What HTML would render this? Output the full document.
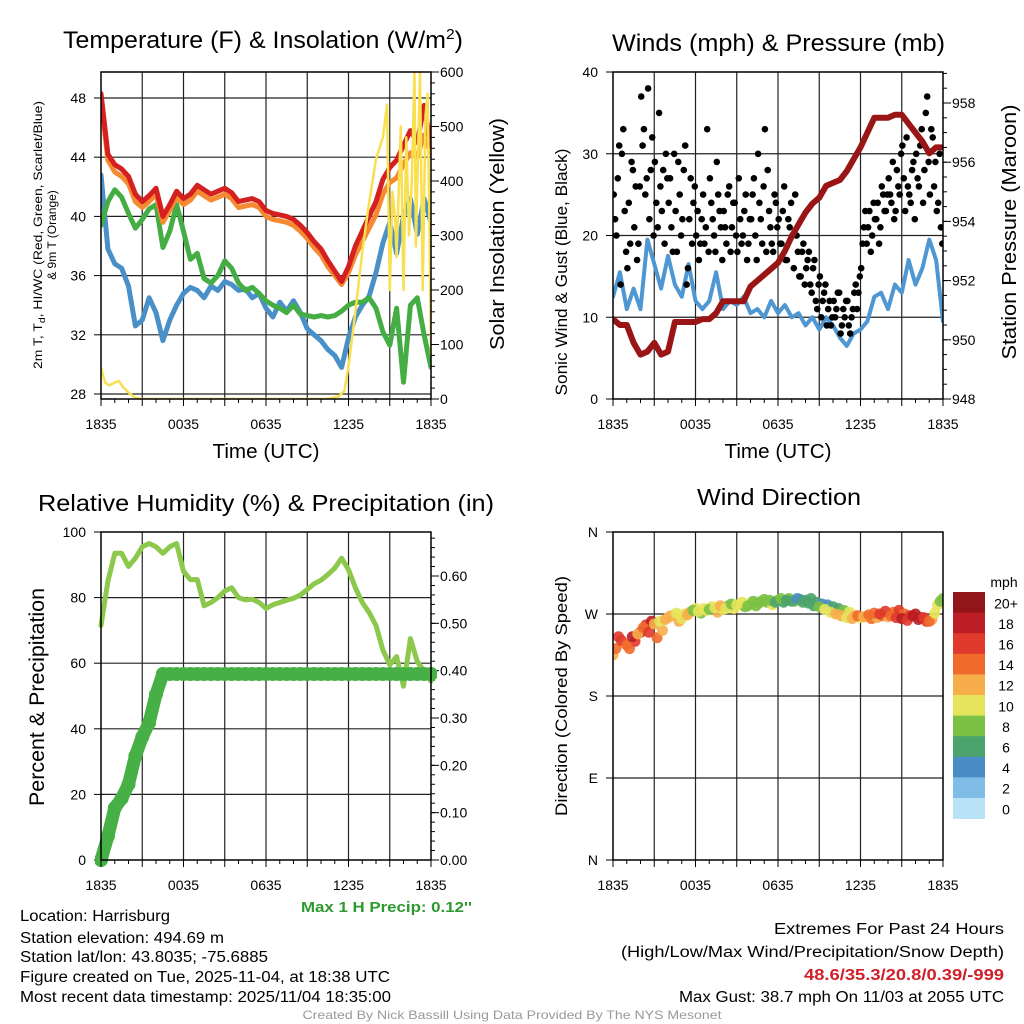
<!DOCTYPE html>
<html><head><meta charset="utf-8"><title>Mesonet Station Meteogram</title>
<style>
html,body{margin:0;padding:0;background:#fff;}
svg{display:block;font-family:"Liberation Sans",Arial,sans-serif;}
</style></head>
<body>
<svg id="fig" width="1024" height="1024" viewBox="0 0 1024 1024" xmlns="http://www.w3.org/2000/svg">
<rect x="0" y="0" width="1024" height="1024" fill="#fff"/>
<defs>
<clipPath id="c1"><rect x="101" y="72" width="330" height="327"/></clipPath>
<clipPath id="c2"><rect x="613" y="72" width="330" height="327"/></clipPath>
<clipPath id="c3"><rect x="95" y="532" width="342" height="336"/></clipPath>
<clipPath id="c4"><rect x="613" y="532" width="330" height="328"/></clipPath>
</defs>
<!-- titles -->
<text x="63" y="48" font-size="24" textLength="400" lengthAdjust="spacingAndGlyphs">Temperature (F) &amp; Insolation (W/m<tspan dy="-9" font-size="15">2</tspan><tspan dy="9">)</tspan></text>
<text x="612" y="51" font-size="24" textLength="333" lengthAdjust="spacingAndGlyphs">Winds (mph) &amp; Pressure (mb)</text>
<text x="38" y="511" font-size="23" textLength="456" lengthAdjust="spacingAndGlyphs">Relative Humidity (%) &amp; Precipitation (in)</text>
<text x="697" y="505" font-size="23" textLength="164" lengthAdjust="spacingAndGlyphs">Wind Direction</text>
<!-- axis titles -->
<text transform="translate(42,235) rotate(-90)" text-anchor="middle" font-size="12" textLength="268" lengthAdjust="spacingAndGlyphs">2m T, T<tspan dy="3" font-size="9">d</tspan><tspan dy="-3">, HI/WC (Red, Green, Scarlet/Blue)</tspan></text>
<text transform="translate(56,235) rotate(-90)" text-anchor="middle" font-size="12">&amp; 9m T (Orange)</text>
<text transform="translate(504,234) rotate(-90)" text-anchor="middle" font-size="20" textLength="232" lengthAdjust="spacingAndGlyphs">Solar Insolation (Yellow)</text>
<text x="266" y="458" text-anchor="middle" font-size="20" textLength="107" lengthAdjust="spacingAndGlyphs">Time (UTC)</text>
<text transform="translate(567,272) rotate(-90)" text-anchor="middle" font-size="17" textLength="247" lengthAdjust="spacingAndGlyphs">Sonic Wind &amp; Gust (Blue, Black)</text>
<text transform="translate(1016,232) rotate(-90)" text-anchor="middle" font-size="20" textLength="255" lengthAdjust="spacingAndGlyphs">Station Pressure (Maroon)</text>
<text x="778" y="458" text-anchor="middle" font-size="20" textLength="107" lengthAdjust="spacingAndGlyphs">Time (UTC)</text>
<text transform="translate(44,697) rotate(-90)" text-anchor="middle" font-size="21" textLength="218" lengthAdjust="spacingAndGlyphs">Percent &amp; Precipitation</text>
<text transform="translate(567,696) rotate(-90)" text-anchor="middle" font-size="17" textLength="240" lengthAdjust="spacingAndGlyphs">Direction (Colored By Speed)</text>
<text x="472" y="912" text-anchor="end" font-size="15" font-weight="bold" fill="#2e9a2e" textLength="171" lengthAdjust="spacingAndGlyphs">Max 1 H Precip: 0.12''</text>
<!-- footer info -->
<g font-size="15.5">
<text x="20" y="921" textLength="150" lengthAdjust="spacingAndGlyphs">Location: Harrisburg</text>
<text x="20" y="943" textLength="204" lengthAdjust="spacingAndGlyphs">Station elevation: 494.69 m</text>
<text x="20" y="962" textLength="248" lengthAdjust="spacingAndGlyphs">Station lat/lon: 43.8035; -75.6885</text>
<text x="20" y="982" textLength="370" lengthAdjust="spacingAndGlyphs">Figure created on Tue, 2025-11-04, at 18:38 UTC</text>
<text x="20" y="1002" textLength="371" lengthAdjust="spacingAndGlyphs">Most recent data timestamp: 2025/11/04 18:35:00</text>
</g>
<g font-size="15.5" text-anchor="end">
<text x="1004" y="934" textLength="230" lengthAdjust="spacingAndGlyphs">Extremes For Past 24 Hours</text>
<text x="1004" y="957" textLength="383" lengthAdjust="spacingAndGlyphs">(High/Low/Max Wind/Precipitation/Snow Depth)</text>
<text x="1004" y="980" fill="#d0202a" font-weight="bold" textLength="200" lengthAdjust="spacingAndGlyphs">48.6/35.3/20.8/0.39/-999</text>
<text x="1004" y="1002" textLength="325" lengthAdjust="spacingAndGlyphs">Max Gust: 38.7 mph On 11/03 at 2055 UTC</text>
</g>
<text x="512" y="1019" text-anchor="middle" font-size="12" fill="#999" textLength="419" lengthAdjust="spacingAndGlyphs">Created By Nick Bassill Using Data Provided By The NYS Mesonet</text>
<g id="marks"></g>
</svg>
<script>
// ---------- data ----------
const hours = [0,0.5,1,1.5,2,2.5,3,3.5,4,4.5,5,5.5,6,6.5,7,7.5,8,8.5,9,9.5,10,10.5,11,11.5,12,12.5,13,13.5,14,14.5,15,15.5,16,16.5,17,17.5,18,18.5,19,19.5,20,20.5,21,21.5,22,22.5,23,23.5,24];
const xTickHours = [0,6,12,18,24];
const xTickLabels = ['1835','0035','0635','1235','1835'];
const tempRed = [48.3,44.2,43.5,43.2,42.7,41.5,41.0,41.4,41.9,40.0,40.8,41.7,41.2,41.5,42.1,41.8,41.5,41.7,41.9,41.6,41.0,41.1,41.2,41.0,40.4,40.2,40.1,40.0,39.8,39.4,38.9,38.3,37.8,37.0,36.3,35.6,36.6,38.0,39.0,40.0,41.0,42.5,43.3,43.8,44.8,45.8,45.0,47.5,44.8];
const tempOrange = [47.9,43.8,43.0,42.7,42.2,41.0,40.6,41.0,41.5,39.6,40.4,41.3,40.8,41.1,41.7,41.4,41.1,41.3,41.5,41.2,40.6,40.7,40.8,40.6,40.0,39.8,39.7,39.6,39.4,39.0,38.5,37.9,37.4,36.6,36.0,35.4,36.2,37.4,38.3,39.2,40.1,41.5,42.3,42.6,43.5,44.3,44.0,45.5,44.3];
const dewGreen = [39.4,41.0,41.8,41.3,40.2,39.2,39.8,40.5,40.8,37.9,39.0,40.8,39.0,37.1,37.5,35.8,35.5,36.0,37.0,36.5,35.5,35.0,35.2,34.8,34.3,34.0,33.8,33.5,34.0,33.4,33.3,33.2,33.3,33.2,33.3,33.6,34.0,34.2,34.2,34.5,33.8,32.2,31.3,33.8,28.8,34.0,34.5,32.0,29.8];
const hiwcBlue = [42.8,37.8,36.8,36.5,35.3,32.6,33.0,34.5,33.5,31.6,33.0,34.0,34.8,35.2,35.0,34.5,35.3,35.0,35.6,35.4,35.0,35.1,34.5,34.8,33.8,33.2,34.2,33.6,34.3,33.5,32.4,32.0,31.6,31.0,30.6,29.8,31.8,33.2,34.0,34.6,36.2,38.2,39.6,37.5,40.0,41.2,38.8,41.2,39.6];
const solarHours = [0,0.3,0.6,1.0,1.3,1.6,2.0,2.5,3,6,9,12,15,16.5,17.3,17.7,18.0,18.5,19.0,19.5,20.0,20.5,20.8,21.0,21.2,21.4,21.5,21.8,22.0,22.2,22.4,22.6,22.8,22.9,23.2,23.4,23.6,23.75,23.9,24];
const solarValues = [58,30,25,30,33,22,12,2,0,0,0,0,0,0,5,15,60,160,270,360,440,480,540,200,380,330,260,500,200,480,300,400,600,280,600,200,520,560,300,80];
const windBlue = [12.5,15.5,11,13.5,11,19.5,16.5,13.5,17.5,14,12.5,16.5,12,11,12,15.5,11,12,11.5,12.5,10.5,11,10,12,10.5,11.5,10,10.5,9,10,8.5,10,9,7.5,6.5,8,8.5,9.5,12.5,13,11,14,13,17,14,16,19.5,17,9.5];
const gustValues = [25,20,31,30,23,16,19,28,26,19,37,33,27,22,32,29,21,26,28,30,24,21,30,18,25,22,31,16,27,24,20,17,22,19,33,27,22,18,25,21,23,19,26,21,24,18,22,20,25,19,22,27,17,24,19,33,28,21,18,24,22,19,26,17,21,20,25,18,15,19,16,18,13,17,11,15,12,14,11,9,12,11,13,9,10,12,8,11,14,13,16,21,19,23,20,22,24,21,25,23,27,24,22,28,25,31,23,26,24,29,30,26,33,28,37,25,32,29,24,21];
const gustValuesB = [22,27,14,33,18,24,29,21,17,26,31,25,38,28,20,24,35,23,19,27,27,18,23,29,20,28,14,22,19,26,23,19,25,21,18,24,20,29,23,17,21,25,18,24,20,27,19,23,17,22,25,20,30,22,26,18,23,19,25,21,19,23,17,22,24,16,20,15,18,14,17,14,16,12,14,10,13,9,12,10,10,13,8,11,12,9,10,13,11,15,19,23,21,18,24,22,19,26,23,25,25,29,23,26,30,27,32,25,28,22,27,31,24,35,29,33,26,23,30,19];
const gustStep = 0.2;
const pressure = [950.7,950.5,950.5,949.9,949.5,949.6,949.9,949.5,949.6,950.6,950.6,950.6,950.6,950.7,950.7,950.9,951.3,951.3,951.3,951.3,951.8,952.0,952.2,952.4,952.6,953.0,953.5,953.9,954.3,954.6,954.8,955.2,955.3,955.4,955.7,956.1,956.5,957.0,957.5,957.5,957.5,957.6,957.6,957.3,957.0,956.7,956.3,956.5,956.5];
const rh = [71.5,85,93.5,93.5,89.5,92,95.5,96.5,95.5,93.5,95.5,96.5,88,85.5,85.5,77.5,78.5,80,82,83,80,79.3,79.5,78.5,76.7,77.8,78.5,79.2,79.8,80.8,82.5,84.2,85.3,87,89,92,88.5,83,78.5,75.5,71.5,64,59.5,62,53,67.5,60.5,57.5,54.5];
const precip = [0,0.05,0.11,0.13,0.16,0.22,0.26,0.29,0.35,0.393,0.393,0.393,0.393,0.393,0.393,0.393,0.393,0.393,0.393,0.393,0.393,0.393,0.393,0.393,0.393,0.393,0.393,0.393,0.393,0.393,0.393,0.393,0.393,0.393,0.393,0.393,0.393,0.393,0.393,0.393,0.393,0.393,0.393,0.393,0.393,0.393,0.393,0.393,0.393];
const dirStep = 0.4;
const dirValues = [225,245,238,232,240,250,258,262,244,252,266,268,262,270,272,276,271,274,278,272,275,279,276,280,278,282,279,284,283,280,285,283,287,284,286,285,287,283,281,280,278,276,274,272,268,266,267,265,266,268,267,272,274,270,268,270,266,262,264,280,287];
const dirSpeeds = [12,16,13,14,17,18,16,19,15,13,12,11,13,10,12,10,9,11,10,12,10,9,11,10,9,10,9,8,9,10,8,7,8,9,7,7,6,6,5,5,6,7,8,10,12,11,12,14,13,15,12,14,16,15,17,18,19,17,12,10,8];
const dirValuesB = [232,241,236,245,248,255,250,259,262,264,268,271,265,269,274,273,276,275,277,279,276,281,280,283,279,284,282,286,285,283,287,285,284,287,283,282,279,278,275,272,270,268,266,265,268,267,269,271,270,273,268,266,265,263,268,264,266,262,271,284];
const dirSpeedsB = [14,17,15,18,13,14,16,12,11,13,12,10,11,12,9,10,11,9,10,12,10,9,10,11,8,9,8,9,8,7,8,7,6,5,6,6,7,9,10,11,12,13,11,12,14,13,15,14,16,17,15,16,18,17,19,18,16,14,11,9];
const speedBins = ['0','2','4','6','8','10','12','14','16','18','20+'];
const tempTicks = [28,32,36,40,44,48];
const solarTicks = [0,100,200,300,400,500,600];
const windTicks = [0,10,20,30,40];
const presTicks = [948,950,952,954,956,958];
const rhTicks = [0,20,40,60,80,100];
const precipTicks = [0,0.1,0.2,0.3,0.4,0.5,0.6];
const dirTicks = [0,90,180,270,360];
const dirLabels = ['N','E','S','W','N'];
const binColors = ['#b8e3f7','#7fbde6','#4a8dc6','#4ba46c','#7cc046','#e6e45a','#f7ae4a','#ef6b2b','#df3a2b','#bd1d24','#921619'];

// ---------- helpers ----------
const NS='http://www.w3.org/2000/svg';
const root=document.getElementById('marks');
function mk(tag,parent){const e=document.createElementNS(NS,tag);(parent||root).appendChild(e);return e;}
function lin(d0,d1,r0,r1){return v=>r0+(v-d0)*(r1-r0)/(d1-d0);}
function pathD(xs,ys,sx,sy){return xs.map((x,i)=>(i?'L':'M')+sx(x).toFixed(1)+','+sy(ys[i]).toFixed(1)).join('');}
function drawLine(g,xs,ys,sx,sy,color,w,name){
  const p=mk('path',g);
  p.setAttribute('d',pathD(xs,ys,sx,sy));
  p.setAttribute('fill','none');p.setAttribute('stroke',color);p.setAttribute('stroke-width',w);
  p.setAttribute('stroke-linejoin','round');p.setAttribute('stroke-linecap','round');
  
  
  return p;
}
function seg(g,x1,y1,x2,y2,color,w){const l=mk('line',g);l.setAttribute('x1',x1);l.setAttribute('y1',y1);l.setAttribute('x2',x2);l.setAttribute('y2',y2);l.setAttribute('stroke',color);l.setAttribute('stroke-width',w);return l;}
function txt(g,x,y,s,anchor,size){const t=mk('text',g);t.setAttribute('x',x);t.setAttribute('y',y);t.setAttribute('text-anchor',anchor);t.setAttribute('font-size',size);t.setAttribute('dominant-baseline','central');t.textContent=s;return t;}

function panel(P,name){
  const g=mk('g');
  
  
  const sx=lin(0,24,P.x0,P.x1);
  for(let h=3;h<24;h+=3){seg(g,sx(h),P.y0,sx(h),P.y1,'#222',1.2);}
  return {g,sx};
}
function frame(g,P){const r=mk('rect',g);r.setAttribute('x',P.x0);r.setAttribute('y',P.y0);r.setAttribute('width',P.x1-P.x0);r.setAttribute('height',P.y1-P.y0);r.setAttribute('fill','none');r.setAttribute('stroke','#000');r.setAttribute('stroke-width',1.5);}
function xAxis(g,P,sx){
  const ax=mk('g',g);
  
  
  for(let h=0;h<=24;h+=1){seg(ax,sx(h),P.y1,sx(h),P.y1+(h%3===0?7:4),'#000',1);}
  xTickHours.forEach((h,i)=>{const t=txt(ax,sx(h),P.y1+25,xTickLabels[i],'middle',14);});
}
function leftAxis(g,P,sy,ticks,labels,grid){
  const ax=mk('g',g);
  
  
  ticks.forEach((v,i)=>{const y=sy(v);
    if(grid && y>P.y0+1 && y<P.y1-1) seg(ax,P.x0,y,P.x1,y,'#222',1.2);
    seg(ax,P.x0-7,y,P.x0,y,'#000',1);
    const t=txt(ax,P.x0-15,y,labels[i],'end',14);
    
    });
}
function rightAxis(g,P,sy,ticks,labels,minorStep,lo,hi){
  const ax=mk('g',g);
  
  
  for(let v=lo;v<=hi+1e-9;v+=minorStep){const y=sy(v);if(y>=P.y0-0.5&&y<=P.y1+0.5)seg(ax,P.x1,y,P.x1+4,y,'#000',1);}
  ticks.forEach((v,i)=>{const y=sy(v);seg(ax,P.x1,y,P.x1+8,y,'#000',1);
    const t=txt(ax,P.x1+9,y,labels[i],'start',14);
    
    });
}

// ---------- Panel 1: temperature ----------
{const P={x0:101,x1:431,y0:72,y1:399};
 const {g,sx}=panel(P,'temperature-panel');
 const sy=lin(28,48,394,98), sr=lin(0,600,399,72);
 leftAxis(g,P,sy,tempTicks,tempTicks.map(String),true);
 rightAxis(g,P,sr,solarTicks,solarTicks.map(String),20,0,600);
 const c=mk('g',g);c.setAttribute('clip-path','url(#c1)');
 drawLine(c,hours,hiwcBlue,sx,sy,'#4a90c8',5,'heat-index-wind-chill-line');
 drawLine(c,hours,dewGreen,sx,sy,'#44ad44',5,'dewpoint-line');
 drawLine(c,hours,tempOrange,sx,sy,'#f58a30',5,'temperature-9m-line');
 drawLine(c,hours,tempRed,sx,sy,'#d42020',5,'temperature-2m-line');
 drawLine(c,solarHours,solarValues,sx,sr,'#f8e050',2.5,'solar-insolation-line');
 xAxis(g,P,sx);frame(g,P);}

// ---------- Panel 2: winds ----------
{const P={x0:613,x1:943,y0:72,y1:399};
 const {g,sx}=panel(P,'winds-panel');
 const sy=lin(0,40,399,72), sp=lin(948,958,399,103);
 leftAxis(g,P,sy,windTicks,windTicks.map(String),true);
 rightAxis(g,P,sp,presTicks,presTicks.map(String),0.5,948,959);
 const c=mk('g',g);c.setAttribute('clip-path','url(#c2)');
 drawLine(c,hours,windBlue,sx,sy,'#4f97d2',4,'sonic-wind-line');
 const gg=mk('g',c);
 
 
 gustValues.forEach((v,i)=>{const d=mk('circle',gg);d.setAttribute('cx',sx(i*gustStep+0.05).toFixed(1));d.setAttribute('cy',sy(v).toFixed(1));d.setAttribute('r',3.3);d.setAttribute('fill','#000');
   
   });
 gustValuesB.forEach((v,i)=>{const d=mk('circle',gg);d.setAttribute('cx',sx(i*gustStep+0.15).toFixed(1));d.setAttribute('cy',sy(v).toFixed(1));d.setAttribute('r',3.3);d.setAttribute('fill','#000');
   
   });
 drawLine(c,hours,pressure,sx,sp,'#9a1616',6,'pressure-line');
 xAxis(g,P,sx);frame(g,P);}

// ---------- Panel 3: RH & precip ----------
{const P={x0:101,x1:431,y0:532,y1:860};
 const {g,sx}=panel(P,'humidity-panel');
 const sy=lin(0,100,860,532), sq=lin(0,0.6,860,576);
 leftAxis(g,P,sy,rhTicks,rhTicks.map(String),true);
 rightAxis(g,P,sq,precipTicks,precipTicks.map(v=>v.toFixed(2)),0.02,0,0.69);
 const c=mk('g',g);c.setAttribute('clip-path','url(#c3)');
 drawLine(c,hours,rh,sx,sy,'#8cc84b',5,'relative-humidity-line');
 drawLine(c,hours,precip,sx,sq,'#46b046',13,'precipitation-line');
 const pg=mk('g',c);
 
 
 precip.forEach((v,i)=>{const d=mk('circle',pg);d.setAttribute('cx',sx(hours[i]).toFixed(1));d.setAttribute('cy',sq(v).toFixed(1));d.setAttribute('r',7);d.setAttribute('fill','#46b046');
   
   });
 xAxis(g,P,sx);frame(g,P);}

// ---------- Panel 4: wind direction ----------
{const P={x0:613,x1:943,y0:532,y1:860};
 const {g,sx}=panel(P,'wind-direction-panel');
 const sy=lin(0,360,860,532);
 leftAxis(g,P,sy,dirTicks,dirLabels,true);
 const c=mk('g',g);c.setAttribute('clip-path','url(#c4)');
 function dot(h,v,s){const d=mk('circle',c);const b=Math.min(10,Math.floor(s/2));
   d.setAttribute('cx',sx(h).toFixed(1));d.setAttribute('cy',sy(v).toFixed(1));d.setAttribute('r',5.5);d.setAttribute('fill',binColors[b]);d.setAttribute('fill-opacity',0.9);
   
   }
 dirValues.forEach((v,i)=>dot(i*dirStep,v,dirSpeeds[i]));
 dirValuesB.forEach((v,i)=>dot(i*dirStep+0.2,v,dirSpeedsB[i]));
 xAxis(g,P,sx);frame(g,P);
 const cb=mk('g');
 
 
 const t0=txt(cb,1004,582,'mph','middle',14);
 
 
 const top=592,bh=20.6;
 for(let k=10;k>=0;k--){const y=top+(10-k)*bh;const r=mk('rect',cb);r.setAttribute('x',953);r.setAttribute('y',y.toFixed(1));r.setAttribute('width',32);r.setAttribute('height',bh+0.4);r.setAttribute('fill',binColors[k]);
   
   
   const t=txt(cb,1006,y+bh/2+1,speedBins[k],'middle',14);
   
   }
}
</script>
</body></html>
